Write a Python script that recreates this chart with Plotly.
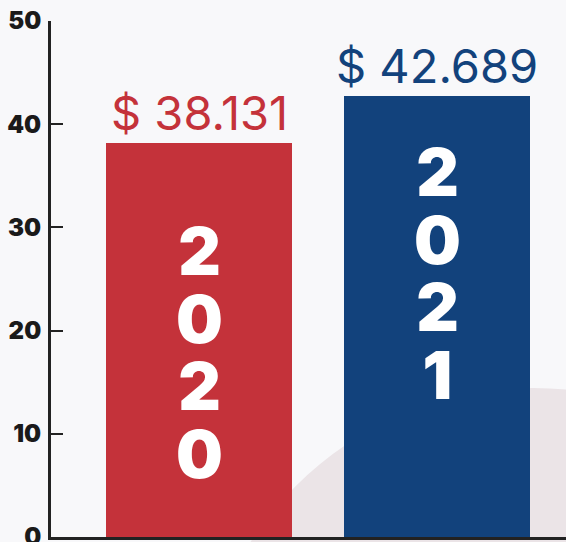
import plotly.graph_objects as go

# Data
years = ["2020", "2021"]
values = [38.131, 42.689]
value_labels = ["$ 38.131", "$ 42.689"]
bar_colors = ["#c4323a", "#12427c"]
y_ticks = [0, 10, 20, 30, 40, 50]

# Vertical year labels: centre of each stacked block (data units)
year_block_center = [17.9, 25.5]

BG = "#f8f8fa"
AXIS = "#222222"

fig = go.Figure()
fig.add_trace(go.Bar(
    x=years, y=values, width=0.78,
    marker=dict(color=bar_colors, line=dict(width=0)),
    hoverinfo="skip",
))

# Soft decorative arc in the lower right
fig.add_shape(
    type="circle", xref="paper", yref="paper",
    x0=0.283, x1=1.59, y0=-1.016, y1=0.289,
    fillcolor="#ebe4e7", line=dict(width=0), layer="below",
)

# Value labels above the bars (category index used as x position)
for idx, (v, lab, col) in enumerate(zip(values, value_labels, bar_colors)):
    fig.add_annotation(
        x=idx, y=v, text=lab, showarrow=False,
        xanchor="center", yanchor="bottom", yshift=0,
        font=dict(family="Inter", size=47, color=col),
    )

# Year written vertically inside each bar: the base font sets the line
# pitch, the inner span enlarges the glyphs themselves
for idx, (yr, c) in enumerate(zip(years, year_block_center)):
    stacked = "<br>".join(
        f"<span style='font-size:66px'>{ch}</span>" for ch in yr
    )
    fig.add_annotation(
        x=idx, y=c, text=stacked,
        showarrow=False, xanchor="center", yanchor="middle", align="center",
        font=dict(family="Inter", size=52, color="white", weight=900),
    )

fig.update_layout(
    width=566, height=542,
    margin=dict(l=51, r=0, t=21, b=5, autoexpand=False),
    paper_bgcolor=BG, plot_bgcolor=BG,
    showlegend=False,
    bargap=0,
)
fig.update_xaxes(
    type="category", range=[-0.622, 1.542], automargin=False,
    showticklabels=False, ticks="", showgrid=False, zeroline=False,
    showline=True, linecolor=AXIS, linewidth=3,
)
fig.update_yaxes(
    range=[0, 50], tickvals=y_ticks, automargin=False,
    ticks="inside", ticklen=12, tickwidth=2, tickcolor=AXIS,
    showgrid=False, zeroline=False,
    showline=True, linecolor=AXIS, linewidth=3,
    tickfont=dict(family="Inter", size=24, color="#1a1a1a", weight=900),
    ticklabelstandoff=2, ticklabeloverflow="allow",
)

fig.write_html("out.html")
